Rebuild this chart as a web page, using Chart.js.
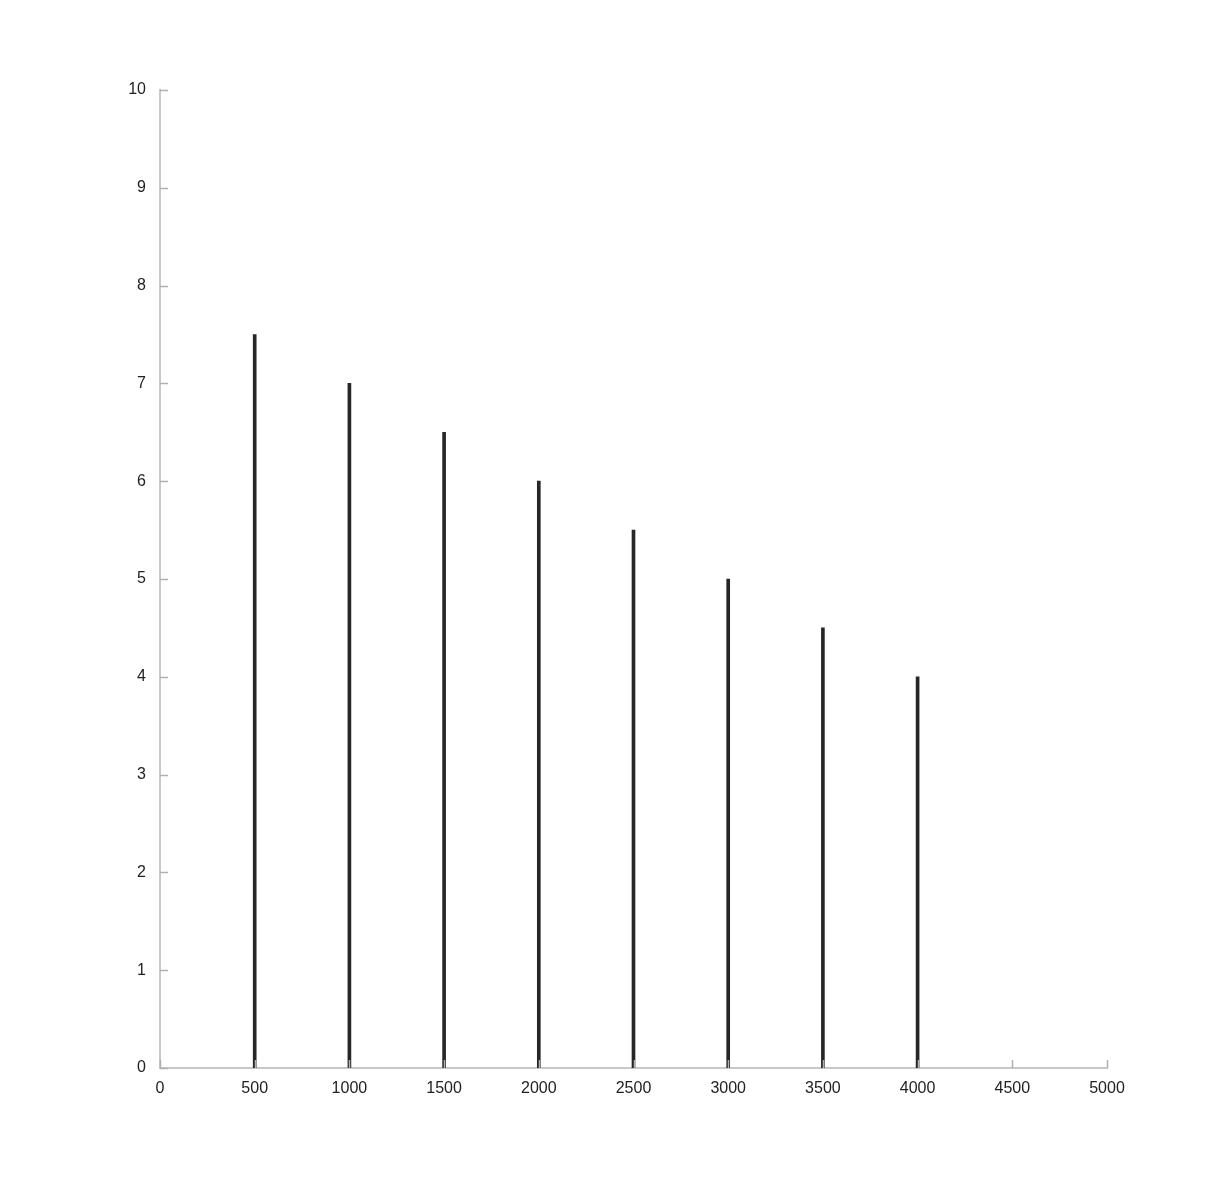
<!DOCTYPE html>
<html>
<head>
<meta charset="utf-8">
<script src="https://cdn.jsdelivr.net/npm/chart.js@4/dist/chart.umd.min.js"></script>
<style>
  body { margin: 0; background: #fff; }
  #chart { display: block; }
</style>
</head>
<body>
<canvas id="chart" width="1224" height="1200"></canvas>
<script>
// stem positions and heights
const xValues = [500, 1000, 1500, 2000, 2500, 3000, 3500, 4000];
const yValues = [7.5, 7, 6.5, 6, 5.5, 5, 4.5, 4];
const xTicks = [0, 500, 1000, 1500, 2000, 2500, 3000, 3500, 4000, 4500, 5000];
const yTicks = [0, 1, 2, 3, 4, 5, 6, 7, 8, 9, 10];

const axisGray = '#c8c8c8';
const tickLen = 8;

// matlab-ish inward tick marks
const innerTicks = {
  id: 'innerTicks',
  afterDatasetsDraw(chart) {
    const ctx = chart.ctx;
    const xs = chart.scales.x, ys = chart.scales.y;
    ctx.save();
    ctx.strokeStyle = '#b0b0b0';
    ctx.lineWidth = 1.5;
    ctx.beginPath();
    yTicks.forEach(v => {
      const py = Math.round(ys.getPixelForValue(v)) + 0.5;
      ctx.moveTo(xs.left, py);
      ctx.lineTo(xs.left + tickLen, py);
    });
    xTicks.forEach(v => {
      const px = Math.round(xs.getPixelForValue(v)) + 0.5;
      ctx.moveTo(px, ys.bottom);
      ctx.lineTo(px, ys.bottom - tickLen);
    });
    ctx.stroke();
    ctx.restore();
  }
};

const data = xValues.map((x, i) => ({ x: x, y: yValues[i] }));

new Chart(document.getElementById('chart'), {
  type: 'bar',
  data: {
    datasets: [{
      data: data,
      backgroundColor: '#262626',
      barThickness: 3
    }]
  },
  options: {
    responsive: false,
    animation: false,
    devicePixelRatio: 1,
    layout: { padding: { left: 0, top: 90, right: 117, bottom: 92 } },
    plugins: { legend: { display: false }, tooltip: { enabled: false } },
    scales: {
      x: {
        type: 'linear',
        offset: false,
        min: 0, max: 5000,
        afterBuildTicks: s => { s.ticks = xTicks.map(v => ({ value: v })); },
        afterFit: s => { s.height = 40; },
        grid: { display: false, offset: false },
        border: { color: axisGray, width: 2 },
        ticks: {
          color: '#222', font: { family: 'Liberation Sans', size: 16 }, padding: 3, maxRotation: 0,
          callback: v => String(v)
        }
      },
      y: {
        min: 0, max: 10,
        afterBuildTicks: s => { s.ticks = yTicks.map(v => ({ value: v })); },
        afterFit: s => { s.width = 160; },
        grid: { display: false },
        border: { color: axisGray, width: 2 },
        ticks: { color: '#222', font: { family: 'Liberation Sans', size: 16 }, padding: 6 }
      }
    }
  },
  plugins: [innerTicks]
});
</script>
</body>
</html>
